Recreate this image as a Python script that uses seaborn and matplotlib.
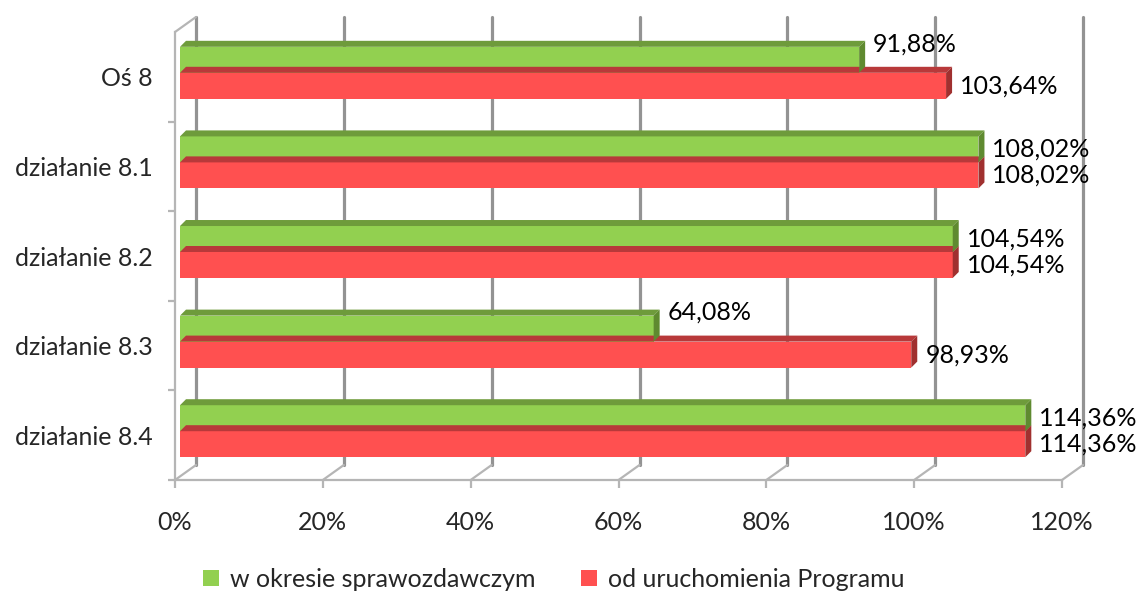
import pandas as pd
import matplotlib.pyplot as plt
import seaborn as sns
from matplotlib.patches import Patch, Polygon
from matplotlib.transforms import ScaledTranslation, IdentityTransform

categories = ['Oś 8', 'działanie 8.1', 'działanie 8.2', 'działanie 8.3', 'działanie 8.4']
series = ['w okresie sprawozdawczym', 'od uruchomienia Programu']
period_vals = [91.88, 108.02, 104.54, 64.08, 114.36]
total_vals = [103.64, 108.02, 104.54, 98.93, 114.36]
x_ticks = [0, 20, 40, 60, 80, 100, 120]

front_colors = ['#92D050', '#FF5050']
top_colors = ['#6E9B3B', '#B8393A']
side_colors = ['#5F8A30', '#A0302F']

df = pd.DataFrame({
    'kategoria': categories * 2,
    'seria': [series[0]] * len(categories) + [series[1]] * len(categories),
    'wartosc': period_vals + total_vals,
})

sns.set_style('white')
plt.rcParams['font.family'] = ['Lato', 'DejaVu Sans']
fs = 18

fig = plt.figure(figsize=(11.42, 5.96), dpi=100)
ax = fig.add_axes([175 / 1142, 1 - 480 / 596, (1062 - 175) / 1142, (480 - 32) / 596])

sns.barplot(data=df, y='kategoria', x='wartosc', hue='seria', hue_order=series,
            palette=front_colors, saturation=1, width=0.58, orient='h',
            legend=False, ax=ax)

ax.set_xlim(0, 120)
ax.set_ylim(4.5, -0.5)
ax.set_xlabel('')
ax.set_ylabel('')

px = 1 / fig.dpi
grey = '#939393'
depth = (21, 15)
back = ScaledTranslation(depth[0] * px, depth[1] * px, fig.dpi_scale_trans)

# back wall gridlines + floor diagonals
for t in x_ticks:
    ax.plot([t, t], [0, 1], transform=ax.get_xaxis_transform() + back,
            color=grey, lw=2.3, zorder=0.5, clip_on=False)
    ax.annotate('', xy=(t, 0), xycoords=('data', 'axes fraction'),
                xytext=depth, textcoords='offset pixels',
                arrowprops=dict(arrowstyle='-', color='#B5B5B5', lw=1.6,
                                shrinkA=0, shrinkB=0))
ax.annotate('', xy=(0, 1), xycoords='axes fraction', xytext=depth,
            textcoords='offset pixels',
            arrowprops=dict(arrowstyle='-', color='#B5B5B5', lw=1.6,
                            shrinkA=0, shrinkB=0))

for s in ['top', 'right']:
    ax.spines[s].set_visible(False)
for s in ['left', 'bottom']:
    ax.spines[s].set_color('#B5B5B5')
    ax.spines[s].set_linewidth(1.6)

ax.set_xticks(x_ticks)
ax.set_xticklabels([f'{t}%' for t in x_ticks])
ax.tick_params(axis='x', length=6, width=1.6, color='#B5B5B5', pad=16,
               labelsize=fs, bottom=True)
ax.set_yticks(range(len(categories)))
ax.set_yticks([i + 0.5 for i in range(len(categories))], minor=True)
ax.tick_params(axis='y', which='major', length=0, pad=16, labelsize=fs)
ax.tick_params(axis='y', which='minor', length=5, width=1.6, color='#B5B5B5', left=True)

# shift bars slightly into depth and add 3D faces
shift = ScaledTranslation(5 * px, 4 * px, fig.dpi_scale_trans)
for p in ax.patches:
    p.set_transform(ax.transData + shift)
    p.set_zorder(2)
    p.set_edgecolor('none')

fig.canvas.draw()
d = 6
for k, cont in enumerate(ax.containers):
    z = 1.9 if k == 1 else 2.1
    for bar in cont:
        bb = bar.get_window_extent()
        x0, y0, x1, y1 = bb.x0, bb.y0, bb.x1, bb.y1
        top = Polygon([(x0, y1), (x1, y1), (x1 + d, y1 + d), (x0 + d, y1 + d)],
                      closed=True, transform=IdentityTransform(),
                      facecolor=top_colors[k], edgecolor='none', zorder=z)
        side = Polygon([(x1, y0), (x1, y1), (x1 + d, y1 + d), (x1 + d, y0 + d)],
                       closed=True, transform=IdentityTransform(),
                       facecolor=side_colors[k], edgecolor='none', zorder=z)
        fig.add_artist(top)
        fig.add_artist(side)

# value labels
for k, cont in enumerate(ax.containers):
    other = ax.containers[1 - k]
    for bar, ob in zip(cont, other):
        w = bar.get_width()
        yc = bar.get_y() + bar.get_height() / 2
        if k == 0 and w < ob.get_width():
            yc -= 0.18
        ax.annotate(f'{w:.2f}%'.replace('.', ','), xy=(w, yc), xytext=(19, 4),
                    textcoords='offset pixels', ha='left', va='center',
                    fontsize=fs, color='black', annotation_clip=False)

handles = [Patch(facecolor=c, edgecolor='none') for c in front_colors]
fig.legend(handles, series, loc='center', bbox_to_anchor=(0.485, 0.028), ncol=2,
           frameon=False, fontsize=fs, handlelength=0.65, handleheight=0.65,
           handletextpad=0.45, columnspacing=1.8)

fig.savefig('out.png', dpi=100)
